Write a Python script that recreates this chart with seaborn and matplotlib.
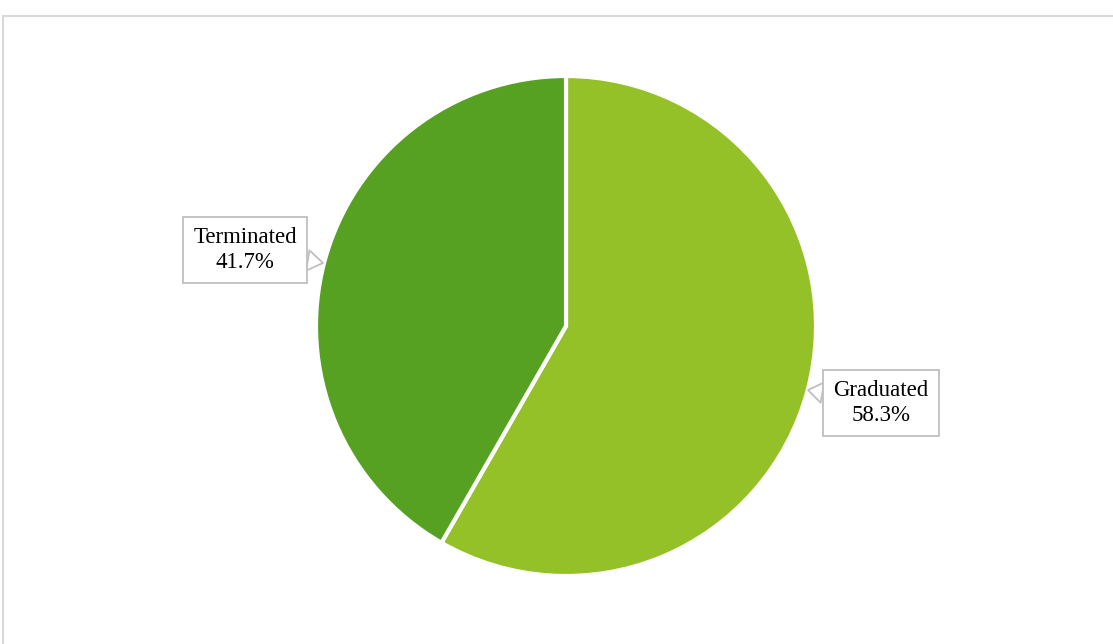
import seaborn as sns
import matplotlib.pyplot as plt
from matplotlib.patches import Rectangle

labels = ["Graduated", "Terminated"]
shares = [58.3, 41.7]
colors = ["#93C127", "#56A022"]

sns.set_theme(style="white")
plt.rcParams['font.family'] = ['Liberation Serif', 'DejaVu Serif']

figure = plt.figure(figsize=(11.13, 6.44), dpi=100)
axis = figure.add_axes([0, 0, 1, 1])

center = (566, 318)
wedges, _ = axis.pie(shares, colors=colors, startangle=90, counterclock=False,
                     radius=250, center=center, frame=True,
                     wedgeprops=dict(edgecolor="white", linewidth=3))

axis.set_xlim(0, 1113)
axis.set_ylim(0, 644)
axis.set_aspect("auto")
axis.set_xticks([])
axis.set_yticks([])
for spine in axis.spines.values():
    spine.set_visible(False)

# light chart border (top and left visible, rest runs off the picture)
axis.add_patch(Rectangle((3, -20), 1200, 644 - 16 + 20, fill=False,
                         edgecolor="#D9D9D9", linewidth=1.5))

label_spots = {"Graduated": ((808, 254), (881, 241)),
               "Terminated": ((323, 381), (245, 394))}
for name, value in zip(labels, shares):
    tip, box = label_spots[name]
    axis.annotate(f"{name}\n{value:.1f}%", xy=tip, xytext=box, color="black",
                  ha="center", va="center", fontsize=16.5, linespacing=1.25,
                  bbox=dict(boxstyle="square,pad=0.45", fc="white", ec="#BFBFBF", lw=1.3),
                  arrowprops=dict(arrowstyle="wedge,tail_width=0.9,shrink_factor=0.5",
                                  fc="white", ec="#BFBFBF", lw=1.3,
                                  shrinkA=0, shrinkB=0))

figure.savefig("out.png", dpi=100)
plt.close(figure)
